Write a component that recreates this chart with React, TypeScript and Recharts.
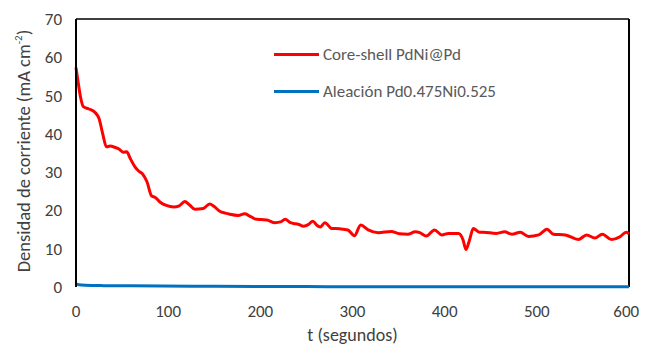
import React from 'react';
import { LineChart, Line, XAxis, YAxis, ReferenceLine } from 'recharts';

const coreShellT = [0, 2, 5, 8, 14, 21, 25, 29, 33, 37, 42, 47, 51, 55, 59, 64, 68, 72, 77, 82, 86, 91, 98, 106, 112, 118, 123, 129, 138, 145, 150, 156, 162, 167, 176, 183, 188, 194, 201, 207, 216, 222, 227, 232, 236, 241, 247, 252, 257, 261, 265, 270, 274, 277, 286, 295, 302, 309, 317, 328, 342, 351, 360, 368, 373, 380, 389, 397, 404, 415, 420, 423, 427, 431, 438, 442, 456, 465, 473, 482, 491, 502, 511, 518, 531, 545, 554, 563, 571, 581, 590, 597, 600];
const coreShellJ = [57.3, 54, 49.5, 47.1, 46.5, 45.5, 44, 40, 36.6, 36.8, 36.5, 36.0, 35.2, 35.3, 33.5, 31.4, 30.3, 29.6, 27.5, 23.8, 23.4, 22.2, 21.3, 20.9, 21.2, 22.3, 21.5, 20.3, 20.5, 21.7, 21.0, 19.8, 19.3, 19.0, 18.7, 19.1, 18.6, 17.8, 17.6, 17.5, 16.8, 17.0, 17.7, 16.9, 16.6, 16.4, 15.9, 16.3, 17.2, 16.2, 15.7, 16.8, 16.0, 15.3, 15.2, 14.9, 13.4, 16.2, 14.9, 14.2, 14.5, 13.9, 13.8, 14.4, 14.2, 13.3, 14.9, 13.6, 14.0, 14.0, 12.3, 9.8, 12.3, 15.3, 14.3, 14.3, 14.0, 14.4, 13.8, 14.3, 13.2, 13.6, 15.1, 13.8, 13.6, 12.4, 13.6, 12.8, 13.8, 12.4, 13.1, 14.3, 13.9];

const alloyT = [0, 3, 10, 30, 60, 150, 250, 400, 600];
const alloyJ = [0.8, 0.6, 0.45, 0.35, 0.3, 0.2, 0.1, 0.05, 0.05];

const xTicks = [0, 100, 200, 300, 400, 500, 600];
const yTicks = [0, 10, 20, 30, 40, 50, 60, 70];

const seriesNames = ['Core-shell PdNi@Pd', 'Aleación Pd0.475Ni0.525'];
const seriesColors = ['#FF0000', '#0070C0'];

const coreShellData = coreShellT.map((t, i) => ({ t, j: coreShellJ[i] }));
const alloyData = alloyT.map((t, i) => ({ t, j: alloyJ[i] }));

const FONT = 'Calibri, Carlito, Lato, sans-serif';

const LegendBox = () => (
  <div style={{ position: 'absolute', left: 266, top: 28, fontFamily: FONT, fontSize: 17, color: '#595959' }}>
    {seriesNames.map((n, i) => (
      <div key={n} style={{ display: 'flex', alignItems: 'center', height: 37, whiteSpace: 'nowrap' }}>
        <div style={{ width: 45, height: 3, background: seriesColors[i], marginRight: 4 }} />
        <span>{n}</span>
      </div>
    ))}
  </div>
);

const YLabel = (props: any) => {
  const { viewBox } = props;
  const cx = 15;
  const cy = viewBox.y + viewBox.height / 2 - 2;
  return (
    <text
      x={cx}
      y={cy}
      transform={`rotate(-90, ${cx}, ${cy})`}
      textAnchor="middle"
      dominantBaseline="central"
      fill="#404040"
      fontFamily={FONT}
      fontSize={18.5}
    >
      Densidad de corriente  (mA cm
      <tspan dy={-5} fontSize={11}>-2</tspan>
      <tspan dy={5}>)</tspan>
    </text>
  );
};

export default function App() {
  return (
    <div style={{ position: 'relative', width: 631, height: 338 }}>
      <LineChart
        width={631}
        height={338}
        margin={{ top: 11, right: 10, left: 0, bottom: 0 }}
      >
        <XAxis
          dataKey="t"
          type="number"
          domain={[0, 600]}
          ticks={xTicks}
          tickLine={false}
          tickSize={6}
          tickMargin={12}
          axisLine={false}
          tick={{ fill: '#404040', fontSize: 17, fontFamily: FONT }}
          height={59}
          label={{ value: 't (segundos)', position: 'insideBottom', offset: 5, fill: '#404040', fontSize: 18, fontFamily: FONT }}
          allowDuplicatedCategory={false}
        />
        <YAxis
          type="number"
          domain={[0, 70]}
          ticks={yTicks}
          tickLine={false}
          tickSize={6}
          tickMargin={8}
          width={68}
          axisLine={{ stroke: '#000', strokeWidth: 2 }}
          tick={{ fill: '#404040', fontSize: 17, fontFamily: FONT }}
          label={<YLabel />}
        />
        <ReferenceLine y={70} stroke="#000" strokeWidth={1.5} />
        <ReferenceLine x={600} stroke="#000" strokeWidth={2} />
        <Line
          data={coreShellData}
          dataKey="j"
          name={seriesNames[0]}
          type="monotone"
          stroke={seriesColors[0]}
          strokeWidth={3}
          dot={false}
          isAnimationActive={false}
        />
        <Line
          data={alloyData}
          dataKey="j"
          name={seriesNames[1]}
          type="monotone"
          stroke={seriesColors[1]}
          strokeWidth={3}
          dot={false}
          isAnimationActive={false}
        />
      </LineChart>
      <LegendBox />
    </div>
  );
}
